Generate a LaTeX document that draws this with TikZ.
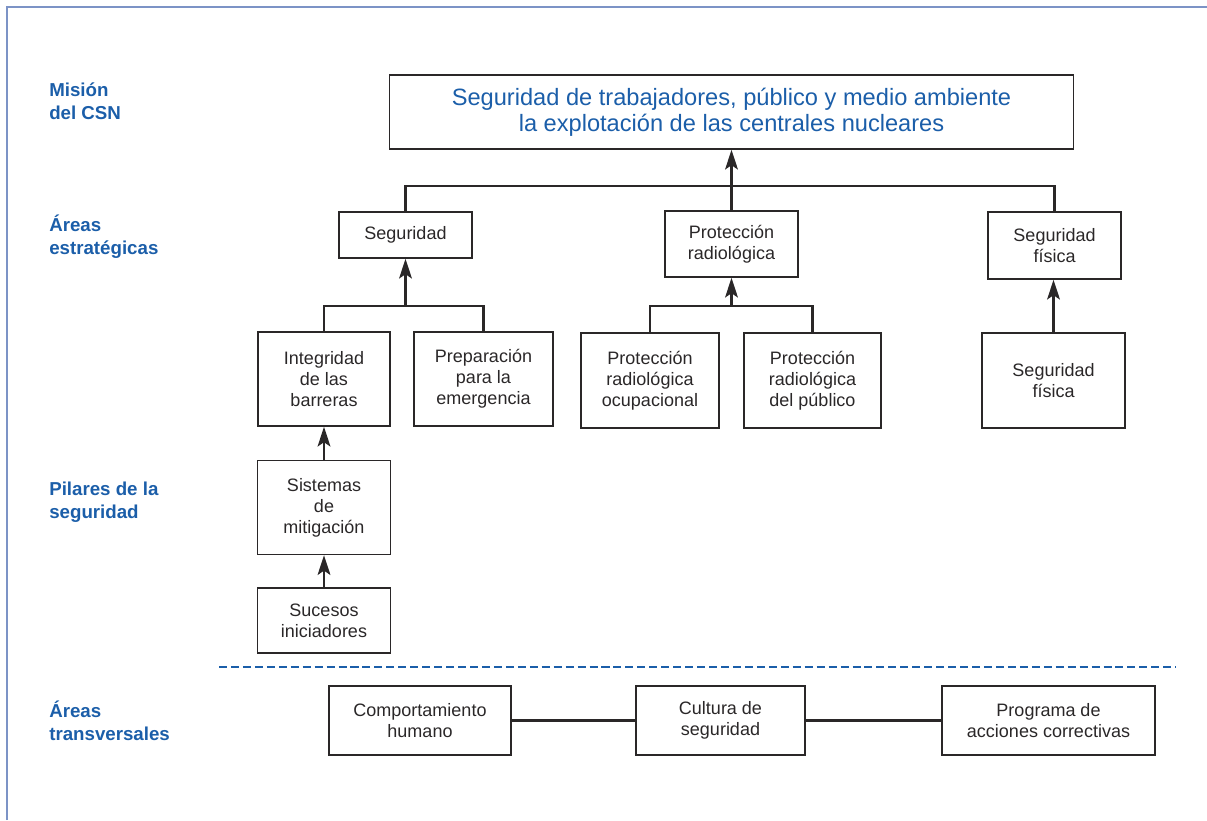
\documentclass[tikz,border=0pt]{standalone}
\usepackage{fontspec}
\setmainfont{Liberation Sans}
\usepackage{tikz}
\usetikzlibrary{arrows.meta,positioning}
\definecolor{CsnBlue}{HTML}{1B5EA9}
\definecolor{FrameBlue}{HTML}{7C93C6}
\definecolor{InkGray}{HTML}{2A2728}
\tikzset{
  BX/.style={rectangle,draw=InkGray,line width=1pt,inner sep=0pt,
             text=InkGray,align=center,
             font=\fontsize{12.8}{14.9}\selectfont},
  tB/.style={BX,text=CsnBlue,font=\fontsize{16.8}{18.5}\selectfont},
  lB/.style={anchor=west,align=left,inner sep=0pt,text=CsnBlue,
             font=\fontsize{13.3}{16.4}\selectfont\bfseries},
  ln/.style={line width=2pt,draw=InkGray},
  arr/.style={ln,-{Stealth[length=14pt,width=9pt,inset=3pt]}},
  sep/.style={line width=2.1pt,draw=CsnBlue,dash pattern=on 5.7pt off 2.8pt}
}
\begin{document}
\begin{tikzpicture}[x=0.025cm,y=-0.025cm]
  \useasboundingbox (0,0) rectangle (1207,820);
  \draw[FrameBlue,line width=1pt] (7,820) -- (7,7) -- (1207,7);

  % row titles
  \node[lB] (tMision) at (49,101) {Misión\\del CSN};
  \node[lB] (tAreas) at (49,237) {Áreas\\estratégicas};
  \node[lB] (tPilares) at (49,502) {Pilares de la\\seguridad};
  \node[lB] (tTransv) at (49,721) {Áreas\\transversales};

  % mission
  \node[tB,minimum width=17.1cm,minimum height=1.85cm] (mision) at (731.5,112)
    {Seguridad de trabajadores, público y medio ambiente\\la explotación de las centrales nucleares};

  % strategic areas
  \node[BX,minimum width=3.325cm,minimum height=1.15cm] (seguridad) at (405.5,235) {Seguridad};
  \node[BX,minimum width=3.325cm,minimum height=1.65cm] (proteccion) at (731.5,244) {Protección\\radiológica};
  \node[BX,minimum width=3.325cm,minimum height=1.675cm] (fisica) at (1054.5,245.5) {Seguridad\\física};

  % pillars
  \node[BX,minimum width=3.3cm,minimum height=2.35cm] (integridad) at (324,379) {Integridad\\de las\\barreras};
  \node[BX,minimum width=3.475cm,minimum height=2.35cm] (preparacion) at (483.5,379) {Preparación\\para la\\emergencia};
  \node[BX,minimum width=3.45cm,minimum height=2.375cm] (ocupacional) at (650,380.5) {Protección\\radiológica\\ocupacional};
  \node[BX,minimum width=3.425cm,minimum height=2.375cm] (publico) at (812.5,380.5) {Protección\\radiológica\\del público};
  \node[BX,minimum width=3.575cm,minimum height=2.375cm] (fisicab) at (1053.5,380.5) {Seguridad\\física};
  \node[BX,minimum width=3.325cm,minimum height=2.35cm,below=0.825cm of integridad] (sistemas) {Sistemas\\de\\mitigación};
  \node[BX,minimum width=3.325cm,minimum height=1.625cm,below=0.8cm of sistemas] (sucesos) {Sucesos\\iniciadores};

  % cross-cutting areas
  \node[BX,minimum width=4.55cm,minimum height=1.725cm] (comportamiento) at (420,720.5) {Comportamiento\\humano};
  \node[BX,minimum width=4.225cm,minimum height=1.725cm] (cultura) at (720.5,720.5) {Cultura de\\seguridad};
  \node[BX,minimum width=5.325cm,minimum height=1.725cm] (programa) at (1048.5,720.5) {Programa de\\acciones correctivas};

  \coordinate (busTop) at (731.5,186);
  \coordinate (busSeg) at (405.5,306);
  \coordinate (busProt) at (731.5,306);

  \draw[ln] (seguridad.north) |- (busTop) -| (fisica.north);
  \draw[arr] (proteccion.north) -- (mision.south);
  \draw[ln] (integridad.north) |- (busSeg) -| (preparacion.north);
  \draw[arr] (busSeg) -- (seguridad.south);
  \draw[ln] (ocupacional.north) |- (busProt) -| (publico.north);
  \draw[arr] (busProt) -- (proteccion.south);
  \draw[arr] (fisicab.north) -- (fisicab.north |- fisica.south);
  \draw[arr] (sistemas) -- (integridad);
  \draw[arr] (sucesos) -- (sistemas);

  \draw[sep] (219,667) -- (1176,667);
  \draw[ln] (comportamiento) -- (cultura) -- (programa);
\end{tikzpicture}
\end{document}
